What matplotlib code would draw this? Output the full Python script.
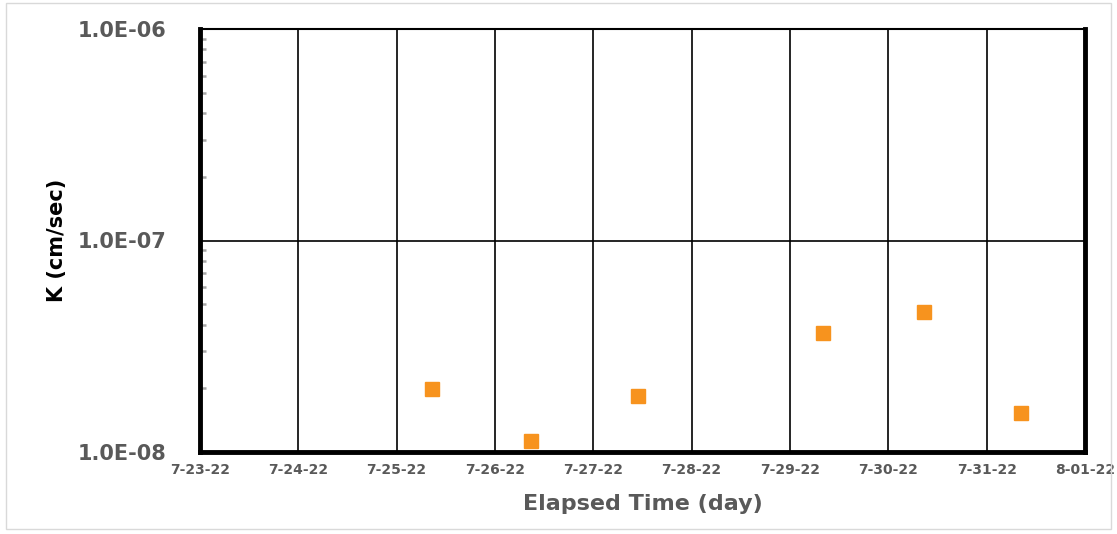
import matplotlib.pyplot as plt
import matplotlib.dates as mdates
from matplotlib.ticker import LogLocator, NullFormatter, FixedLocator
import pandas as pd

# readings taken off the chart
times = ["2022-07-25 08:40", "2022-07-26 08:40", "2022-07-27 11:00",
         "2022-07-29 08:10", "2022-07-30 08:40", "2022-07-31 08:25"]
k_values = [1.99e-8, 1.13e-8, 1.84e-8, 3.65e-8, 4.59e-8, 1.53e-8]
y_ticks = [1e-8, 1e-7, 1e-6]
y_tick_labels = ["1.0E-08", "1.0E-07", "1.0E-06"]

x = pd.to_datetime(times)
gray = "#595959"


def date_label(v, pos):
    d = mdates.num2date(v)
    return f"{d.month}-{d.day:02d}-22" if d.day < 10 else f"{d.month}-{d.day}-22"


fig = plt.figure(figsize=(11.17, 5.34), dpi=100)
ax = fig.add_axes([200 / 1117, 1 - 452 / 534, 885 / 1117, 423 / 534])

ax.plot(x, k_values, linestyle="none", marker="s", markersize=9.5,
        color="#F7931E", markeredgecolor="#F7931E", zorder=5)

ax.set_yscale("log")
ax.set_ylim(1e-8, 1e-6)
ax.set_xlim(pd.Timestamp("2022-07-23"), pd.Timestamp("2022-08-01"))

ax.yaxis.set_major_locator(FixedLocator(y_ticks))
ax.set_yticklabels(y_tick_labels)
ax.yaxis.set_minor_locator(LogLocator(base=10, subs=range(2, 10)))
ax.yaxis.set_minor_formatter(NullFormatter())

ax.xaxis.set_major_locator(mdates.DayLocator())
ax.xaxis.set_major_formatter(plt.FuncFormatter(date_label))

ax.grid(True, which="major", color="black", linewidth=1.2)
ax.set_axisbelow(True)

ax.tick_params(axis="y", which="major", length=0, pad=24, labelsize=15, labelcolor=gray)
ax.tick_params(axis="y", which="minor", direction="in", length=4, width=1.8, color="#a6a6a6")
ax.tick_params(axis="x", which="major", length=0, pad=8, labelsize=10, labelcolor=gray)
for lab in ax.get_yticklabels() + ax.get_xticklabels():
    lab.set_fontweight("bold")

for side in ["left", "bottom", "right"]:
    ax.spines[side].set_linewidth(3.5)
ax.spines["top"].set_linewidth(1.5)

ax.set_ylabel("K (cm/sec)", fontsize=15, fontweight="bold", color="black")
ax.yaxis.set_label_coords(-0.15, 0.5)
ax.set_xlabel("Elapsed Time (day)", fontsize=16, fontweight="bold", color=gray, labelpad=12)

fig.patches.append(plt.Rectangle((0.005, 0.01), 0.99, 0.985, transform=fig.transFigure,
                                 fill=False, edgecolor="#d9d9d9", linewidth=1))

fig.savefig("out.png", dpi=100)
